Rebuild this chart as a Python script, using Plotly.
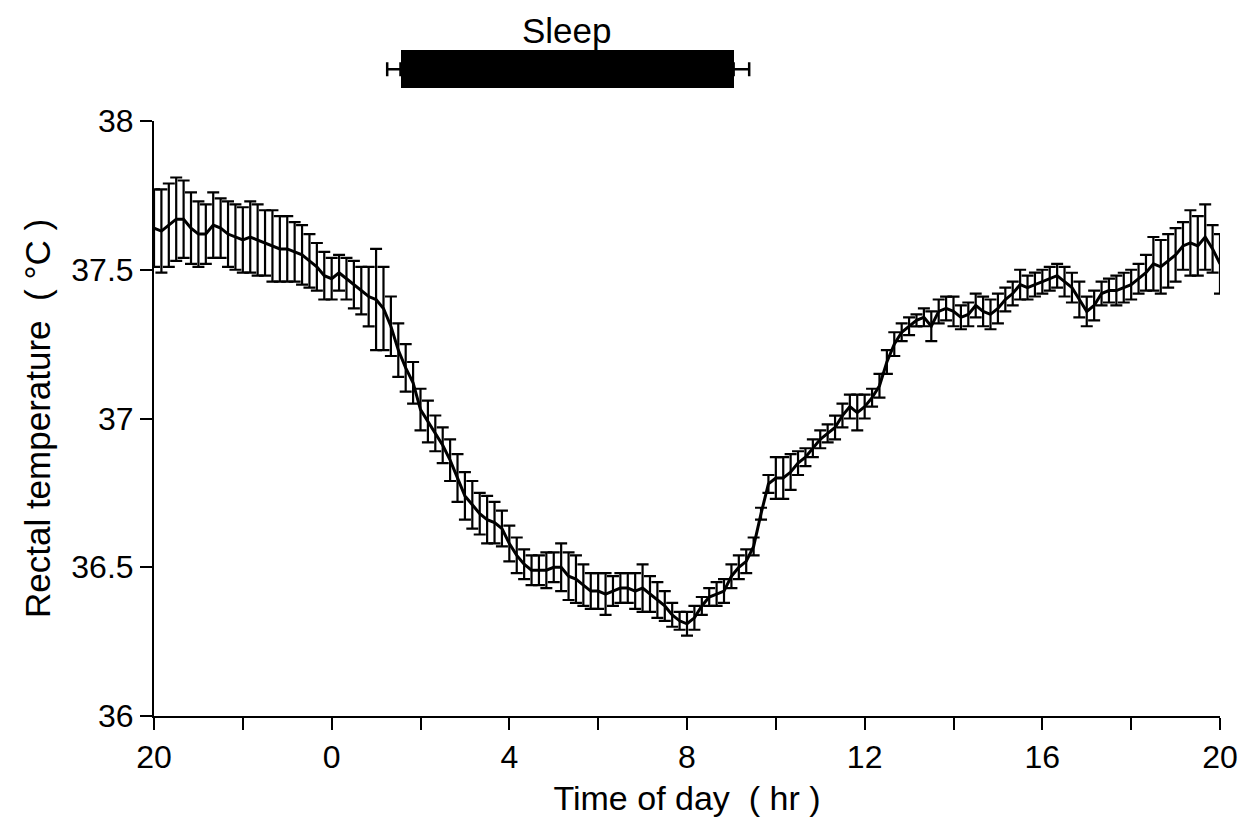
import plotly.graph_objects as go

# Time axis: hours elapsed since 20:00, sampled every 10 min
hours = [i / 6 for i in range(145)]

# Mean rectal temperature (deg C), 6 points per hour starting at 20:00
temp_mean = [
    37.64, 37.63, 37.65, 37.67, 37.67, 37.64,   # 20:00
    37.62, 37.62, 37.65, 37.64, 37.62, 37.61,   # 21:00
    37.60, 37.61, 37.60, 37.59, 37.58, 37.57,   # 22:00
    37.57, 37.56, 37.55, 37.53, 37.51, 37.48,   # 23:00
    37.47, 37.49, 37.47, 37.45, 37.43, 37.41,   # 0:00
    37.40, 37.37, 37.31, 37.23, 37.17, 37.12,   # 1:00
    37.03, 36.99, 36.95, 36.91, 36.86, 36.80,   # 2:00
    36.74, 36.71, 36.68, 36.66, 36.65, 36.63,   # 3:00
    36.58, 36.54, 36.51, 36.49, 36.49, 36.49,   # 4:00
    36.50, 36.50, 36.47, 36.46, 36.44, 36.42,   # 5:00
    36.42, 36.41, 36.42, 36.43, 36.43, 36.42,   # 6:00
    36.43, 36.41, 36.39, 36.37, 36.34, 36.32,   # 7:00
    36.31, 36.33, 36.37, 36.40, 36.41, 36.42,   # 8:00
    36.47, 36.50, 36.52, 36.57, 36.68, 36.78,   # 9:00
    36.80, 36.80, 36.82, 36.85, 36.87, 36.90,   # 10:00
    36.93, 36.95, 36.97, 37.01, 37.04, 37.02,   # 11:00
    37.04, 37.07, 37.11, 37.19, 37.25, 37.29,   # 12:00
    37.31, 37.33, 37.34, 37.31, 37.36, 37.37,   # 13:00
    37.36, 37.34, 37.35, 37.38, 37.36, 37.35,   # 14:00
    37.37, 37.40, 37.42, 37.45, 37.44, 37.45,   # 15:00
    37.46, 37.47, 37.48, 37.46, 37.44, 37.40,   # 16:00
    37.36, 37.38, 37.42, 37.43, 37.43, 37.44,   # 17:00
    37.45, 37.47, 37.49, 37.52, 37.51, 37.53,   # 18:00
    37.55, 37.58, 37.59, 37.58, 37.61, 37.57,   # 19:00
    37.52,                                      # 20:00
]

# Standard error (deg C)
temp_se = [
    0.13, 0.14, 0.14, 0.14, 0.13, 0.12,
    0.11, 0.10, 0.11, 0.10, 0.11, 0.11,
    0.11, 0.12, 0.12, 0.11, 0.12, 0.11,
    0.11, 0.10, 0.10, 0.09, 0.08, 0.08,
    0.07, 0.06, 0.07, 0.08, 0.08, 0.10,
    0.17, 0.14, 0.10, 0.09, 0.08, 0.07,
    0.07, 0.07, 0.06, 0.06, 0.07, 0.08,
    0.08, 0.08, 0.07, 0.08, 0.07, 0.06,
    0.06, 0.06, 0.05, 0.05, 0.05, 0.06,
    0.05, 0.08, 0.08, 0.08, 0.07, 0.06,
    0.06, 0.07, 0.05, 0.05, 0.05, 0.06,
    0.08, 0.06, 0.06, 0.05, 0.04, 0.03,
    0.04, 0.04, 0.03, 0.03, 0.04, 0.04,
    0.04, 0.04, 0.04, 0.03, 0.02, 0.03,
    0.07, 0.07, 0.06, 0.04, 0.03, 0.03,
    0.03, 0.03, 0.04, 0.04, 0.04, 0.06,
    0.04, 0.03, 0.04, 0.04, 0.04, 0.03,
    0.03, 0.02, 0.03, 0.05, 0.04, 0.04,
    0.05, 0.04, 0.04, 0.04, 0.05, 0.05,
    0.05, 0.04, 0.04, 0.05, 0.04, 0.04,
    0.04, 0.04, 0.04, 0.05, 0.05, 0.06,
    0.05, 0.05, 0.04, 0.04, 0.05, 0.05,
    0.05, 0.05, 0.06, 0.09, 0.09, 0.09,
    0.09, 0.08, 0.11, 0.10, 0.11, 0.08,
    0.10,
]

# Sleep period (hours since 20:00) with SD
sleep_onset = 5.55
sleep_offset = 13.05
sleep_onset_sd = 0.30
sleep_offset_sd = 0.35

x_tickvals = [0, 2, 4, 6, 8, 10, 12, 14, 16, 18, 20, 22, 24]
x_ticktext = ["20", "", "0", "", "4", "", "8", "", "12", "", "16", "", "20"]
y_tickvals = [36, 36.5, 37, 37.5, 38]
y_ticktext = ["36", "36.5", "37", "37.5", "38"]

FONT = "Liberation Sans, Arial, sans-serif"

fig = go.Figure()

fig.add_trace(go.Scatter(
    x=hours, y=temp_mean, mode="lines",
    line=dict(color="black", width=3),
    error_y=dict(type="data", array=temp_se, visible=True,
                 color="black", thickness=2.2, width=6),
    showlegend=False,
))

# Sleep bar
fig.add_trace(go.Bar(
    x=[sleep_offset - sleep_onset], base=[sleep_onset], y=[0],
    orientation="h", width=0.54, yaxis="y2",
    marker=dict(color="black", line=dict(width=0)),
    showlegend=False,
))
fig.add_trace(go.Scatter(
    x=[sleep_onset, sleep_offset], y=[0, 0], mode="markers",
    marker=dict(size=1, color="black"), yaxis="y2",
    error_x=dict(type="data", symmetric=False,
                 array=[0, sleep_offset_sd],
                 arrayminus=[sleep_onset_sd, 0],
                 color="black", thickness=2.5, width=7),
    showlegend=False,
))

fig.add_annotation(
    x=(sleep_onset + sleep_offset) / 2, y=0.98, xref="x", yref="paper",
    yanchor="middle",
    text="Sleep", showarrow=False, font=dict(size=35, color="black", family=FONT),
)

fig.update_layout(
    width=1241, height=816,
    margin=dict(l=146, r=29, t=8, b=108, autoexpand=False),
    paper_bgcolor="white", plot_bgcolor="white",
    font=dict(family=FONT, size=32, color="black"),
    bargap=0,
    xaxis=dict(
        range=[0, 24], tickmode="array", tickvals=x_tickvals, ticktext=x_ticktext,
        showgrid=False, zeroline=False, showline=True, linecolor="black", linewidth=2,
        ticks="outside", ticklen=12, tickwidth=2, tickcolor="black",
        tickfont=dict(size=32),
        title=dict(text="Time of day  ( hr )", font=dict(size=34), standoff=12),
    ),
    yaxis=dict(
        domain=[0, 0.85], range=[36, 38], tickmode="array",
        tickvals=y_tickvals, ticktext=y_ticktext,
        showgrid=False, zeroline=False, showline=True, linecolor="black", linewidth=2,
        ticks="outside", ticklen=12, tickwidth=2, tickcolor="black",
        tickfont=dict(size=32),
        title=dict(text="Rectal temperature  ( °C )", font=dict(size=35), standoff=10),
    ),
    yaxis2=dict(
        domain=[0.874, 0.974], range=[-0.5, 0.5], anchor="x",
        visible=False, showgrid=False, zeroline=False, fixedrange=True,
    ),
)

fig.write_html("out.html")
